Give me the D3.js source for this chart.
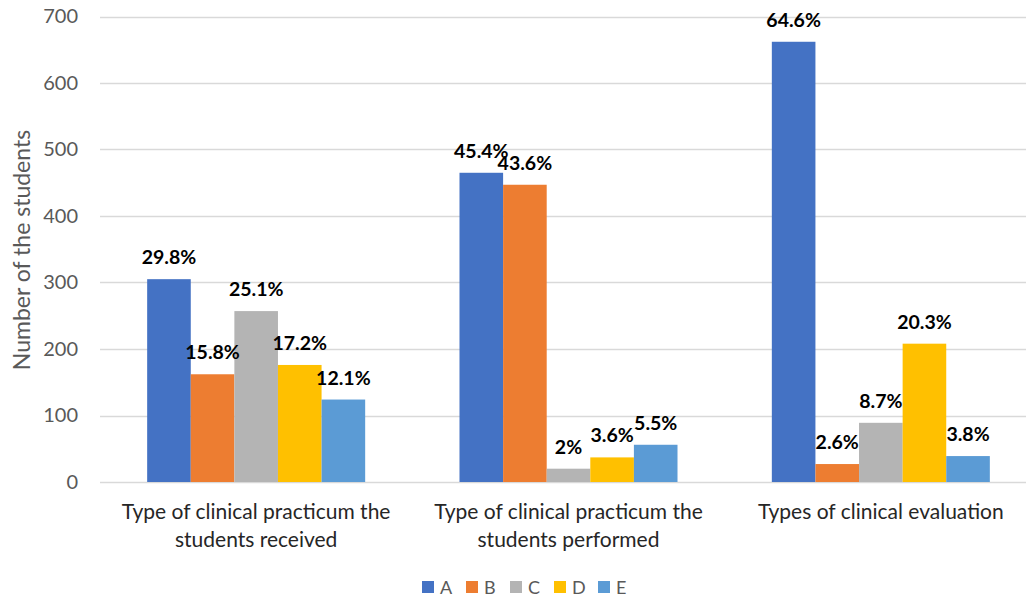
<!DOCTYPE html>
<html>
<head>
<meta charset="utf-8">
<script src="https://cdn.jsdelivr.net/npm/d3@7"></script>
<style>
  body { margin: 0; background: #fff; }
  text { font-family: Lato, "Open Sans", sans-serif; }
</style>
</head>
<body>
<div id="chart"></div>
<script>
const categories = [
  ["Type of clinical practicum the", "students received"],
  ["Type of clinical practicum the", "students performed"],
  ["Types of clinical evaluation"]
];
const seriesNames = ["A", "B", "C", "D", "E"];
const counts = [
  [305, 162, 257, 176, 124],
  [465, 447, 20, 37, 56],
  [662, 27, 89, 208, 39]
];
const percents = [
  ["29.8%", "15.8%", "25.1%", "17.2%", "12.1%"],
  ["45.4%", "43.6%", "2%", "3.6%", "5.5%"],
  ["64.6%", "2.6%", "8.7%", "20.3%", "3.8%"]
];
const yTicks = [0, 100, 200, 300, 400, 500, 600, 700];
const colors = ["#4472C4", "#ED7D31", "#B4B4B4", "#FFC000", "#5B9BD5"];

const W = 1026, H = 598;
// the plot area runs a little past the right edge of the picture
const plotLeft = 100, plotRight = 1037, plotTop = 16.5, plotBottom = 482;

const svg = d3.select("#chart").append("svg")
  .attr("width", W)
  .attr("height", H);

const x0 = d3.scaleBand()
  .domain(d3.range(categories.length))
  .range([plotLeft, plotRight])
  .paddingInner(0.302)
  .paddingOuter(0.151);

const x1 = d3.scaleBand()
  .domain(seriesNames)
  .range([0, x0.bandwidth()]);

const y = d3.scaleLinear()
  .domain([0, 700])
  .range([plotBottom, plotTop]);

const color = d3.scaleOrdinal().domain(seriesNames).range(colors);

// gridlines
svg.append("g")
  .selectAll("line")
  .data(yTicks)
  .enter()
  .append("line")
  .attr("x1", plotLeft)
  .attr("x2", W)
  .attr("y1", d => Math.round(y(d)) + 0.5)
  .attr("y2", d => Math.round(y(d)) + 0.5)
  .attr("stroke", "#d9d9d9")
  .attr("stroke-width", 1.3);

// y axis labels
const yAxis = svg.append("g")
  .attr("transform", "translate(" + (plotLeft - 22) + ",0)")
  .call(d3.axisLeft(y).tickValues(yTicks).tickSize(0).tickPadding(0));
yAxis.select(".domain").remove();
yAxis.selectAll("text")
  .attr("fill", "#595959")
  .style("font-size", "20px")
  .style("font-family", "Lato, sans-serif");

svg.append("text")
  .attr("transform", "translate(30," + 250 + ") rotate(-90)")
  .attr("text-anchor", "middle")
  .attr("fill", "#595959")
  .style("font-size", "23px")
  .text("Number of the students");

// bars
const groups = svg.append("g")
  .selectAll("g")
  .data(counts)
  .enter()
  .append("g")
  .attr("transform", (d, i) => "translate(" + x0(i) + ",0)");

groups.selectAll("rect")
  .data((d, i) => d.map((v, j) => ({ v: v, s: seriesNames[j], p: percents[i][j] })))
  .enter()
  .append("rect")
  .attr("x", d => x1(d.s))
  .attr("width", x1.bandwidth())
  .attr("y", d => y(d.v))
  .attr("height", d => y(0) - y(d.v))
  .attr("fill", d => color(d.s));

groups.selectAll(".label")
  .data((d, i) => d.map((v, j) => ({ v: v, s: seriesNames[j], p: percents[i][j] })))
  .enter()
  .append("text")
  .attr("class", "label")
  .attr("x", d => x1(d.s) + x1.bandwidth() / 2)
  .attr("y", d => y(d.v) - 15)
  .attr("text-anchor", "middle")
  .style("font-size", "19.5px")
  .style("font-weight", "bold")
  .attr("fill", "#000")
  .text(d => d.p);

// category labels
const cat = svg.append("g")
  .selectAll("text")
  .data(categories)
  .enter()
  .append("text")
  .attr("text-anchor", "middle")
  .attr("fill", "#262626")
  .style("font-size", "21px")
  .attr("x", (d, i) => x0(i) + x0.bandwidth() / 2)
  .attr("y", 519);
cat.selectAll("tspan")
  .data(d => d)
  .enter()
  .append("tspan")
  .attr("x", function() { return d3.select(this.parentNode).attr("x"); })
  .attr("dy", (d, i) => i === 0 ? 0 : 28)
  .text(d => d);

// legend
const itemW = 44;
const legendX = 422;
const legend = svg.append("g")
  .selectAll("g")
  .data(seriesNames)
  .enter()
  .append("g")
  .attr("transform", (d, i) => "translate(" + (legendX + i * itemW) + ",581)");
legend.append("rect")
  .attr("width", 12)
  .attr("height", 12)
  .attr("fill", d => color(d));
legend.append("text")
  .attr("x", 18)
  .attr("y", 12.5)
  .attr("fill", "#595959")
  .style("font-size", "18px")
  .text(d => d);
</script>
</body>
</html>
